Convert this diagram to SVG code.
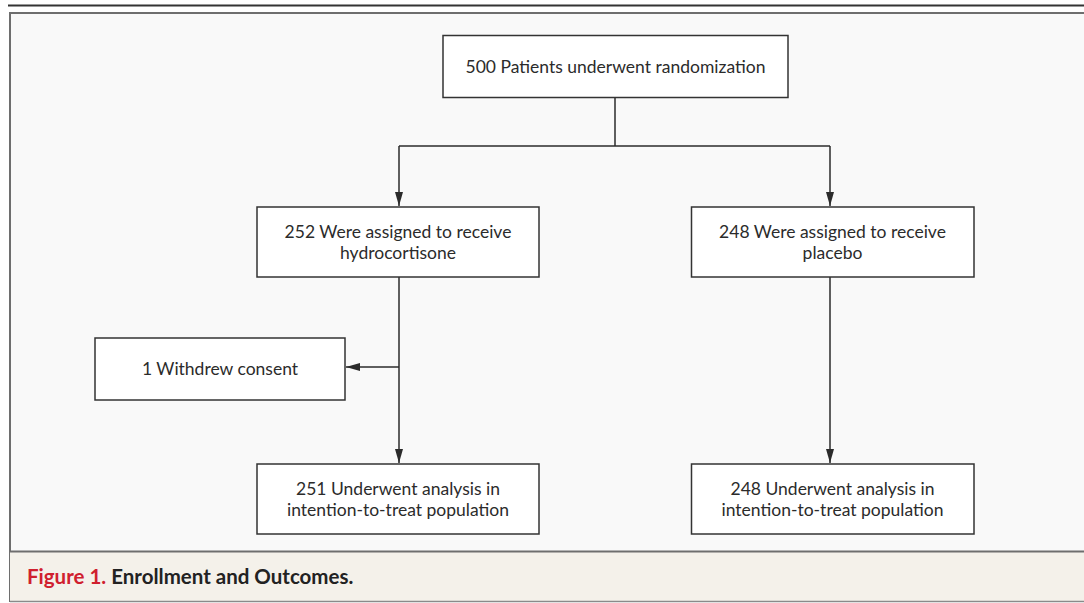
<svg xmlns="http://www.w3.org/2000/svg" width="1084" height="603" viewBox="0 0 1084 603">
<style>
.box{fill:#ffffff;stroke:#333333;stroke-width:1.5}
.t{font-family:Lato,"Open Sans","Liberation Sans",sans-serif;font-size:17.5px;fill:#2b2b2b;text-anchor:middle}
.c{stroke:#2b2b2b;stroke-width:1.5;fill:none}
.cap{font-family:Lato,"Open Sans","Liberation Sans",sans-serif;font-size:20.5px;font-weight:bold}
</style>
<defs>
<marker id="ah" viewBox="0 0 14 8" refX="14" refY="4" markerWidth="14" markerHeight="8" markerUnits="userSpaceOnUse" orient="auto">
<path d="M0,0 L14,4 L0,8 Z" fill="#2b2b2b"/>
</marker>
</defs>
<rect x="0" y="0" width="1084" height="603" fill="#ffffff"/>
<line x1="8" y1="5.5" x2="1084" y2="5.5" stroke="#333333" stroke-width="2"/>
<rect x="10" y="13" width="1080" height="588" fill="#f9f9f9" stroke="#6e6e6e" stroke-width="2"/>
<rect x="10" y="552" width="1080" height="49" fill="#f4f1ea"/>
<line x1="10" y1="551.5" x2="1084" y2="551.5" stroke="#6e6e6e" stroke-width="2"/>
<line x1="10" y1="601.5" x2="1084" y2="601.5" stroke="#8a8a8a" stroke-width="1.5"/>
<g id="connectors">
<path class="c" d="M615,97 V146"/>
<path class="c" d="M399,146 H830"/>
<path class="c" d="M399,146 V206" marker-end="url(#ah)"/>
<path class="c" d="M830,146 V206" marker-end="url(#ah)"/>
<path class="c" d="M399,277 V463" marker-end="url(#ah)"/>
<path class="c" d="M399,367 H346" marker-end="url(#ah)"/>
<path class="c" d="M830,277 V463" marker-end="url(#ah)"/>
</g>
<g id="n_random">
<rect class="box" x="443" y="35.5" width="345" height="62"/>
<text class="t" x="615.5" y="72.5">500 Patients underwent randomization</text>
</g>
<g id="n_hydro">
<rect class="box" x="257" y="207" width="282" height="70"/>
<text class="t" x="398" y="237.5">252 Were assigned to receive</text>
<text class="t" x="398" y="258.5">hydrocortisone</text>
</g>
<g id="n_placebo">
<rect class="box" x="691.5" y="207" width="282.5" height="70"/>
<text class="t" x="832.5" y="237.5">248 Were assigned to receive</text>
<text class="t" x="832.5" y="258.5">placebo</text>
</g>
<g id="n_withdrew">
<rect class="box" x="95" y="338" width="250" height="62"/>
<text class="t" x="220" y="375">1 Withdrew consent</text>
</g>
<g id="n_itt_hydro">
<rect class="box" x="257" y="464" width="282" height="70"/>
<text class="t" x="398" y="494.5">251 Underwent analysis in</text>
<text class="t" x="398" y="515.5">intention-to-treat population</text>
</g>
<g id="n_itt_placebo">
<rect class="box" x="691.5" y="464" width="282.5" height="70"/>
<text class="t" x="832.5" y="494.5">248 Underwent analysis in</text>
<text class="t" x="832.5" y="515.5">intention-to-treat population</text>
</g>
<text class="cap" x="27" y="584"><tspan fill="#d0202e">Figure 1.</tspan><tspan fill="#222222"> Enrollment and Outcomes.</tspan></text>
</svg>
